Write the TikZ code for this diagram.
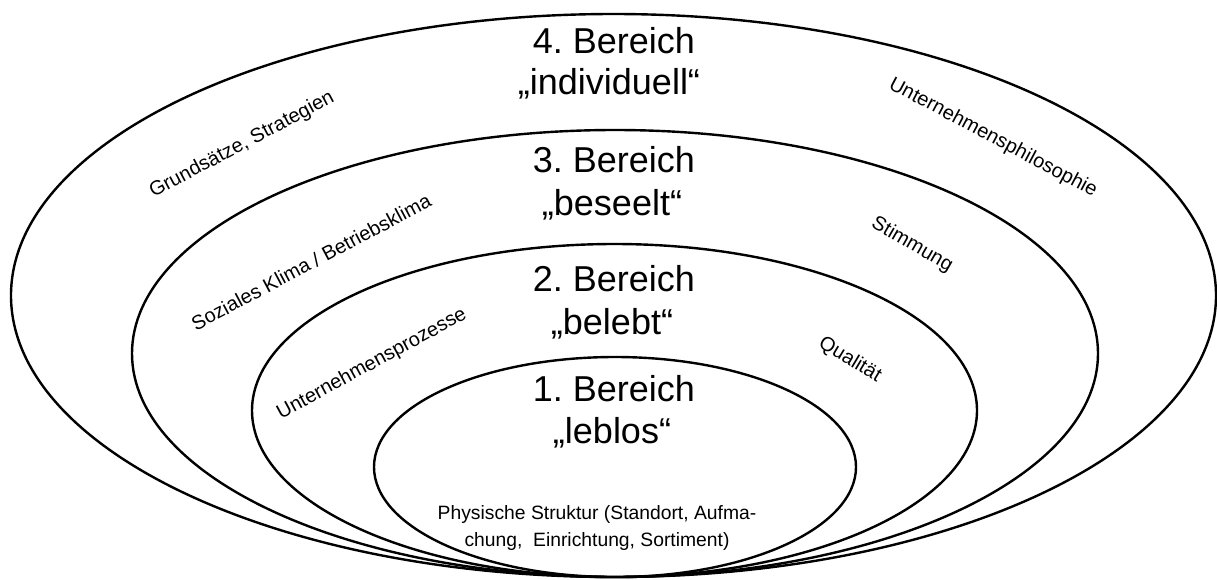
\documentclass[tikz,border=0pt]{standalone}
\usepackage{fontspec}
\setmainfont{Liberation Sans}
\usetikzlibrary{shapes.geometric}
\frenchspacing

\tikzset{
  x=1pt, y=-1pt,
  zone/.style={draw=black, line width=2.4pt, shape=ellipse, inner sep=0pt, minimum width=#1},
  title/.style={anchor=base, inner sep=0pt, font=\fontsize{36}{41}\selectfont},
  tag/.style={inner sep=0pt, font=\fontsize{20}{24}\selectfont},
  note/.style={anchor=base, inner sep=0pt, font=\fontsize{19.3}{24}\selectfont},
}

\begin{document}
\begin{tikzpicture}
\useasboundingbox (0,0) rectangle (1217,579);

% four nested zones, all touching at the bottom
\node[zone=1205pt, minimum height=563pt] (e4) at (613.5,295.5) {};
\node[zone=966pt,  minimum height=447pt] (e3) at (615,353.5) {};
\node[zone=725pt,  minimum height=333pt] (e2) at (614.5,410.5) {};
\node[zone=482pt,  minimum height=220pt] (e1) at (615,467) {};

% zone titles
\node[title] (b4a) at (614,53)  {4. Bereich};
\node[title] (b4b) at (609,94)  {„individuell“};
\node[title] (b3a) at (614,172) {3. Bereich};
\node[title] (b3b) at (612,215) {„beseelt“};
\node[title] (b2a) at (614,291) {2. Bereich};
\node[title] (b2b) at (612,334) {„belebt“};
\node[title] (b1a) at (614,401) {1. Bereich};
\node[title] (b1b) at (612,443) {„leblos“};

% slanted side labels
\node[tag, rotate=28]   (grund)   at (242,145) {Grundsätze, Strategien};
\node[tag, rotate=28]   (sozial)  at (311,262) {Soziales Klima / Betriebsklima};
\node[tag, rotate=28.5] (prozess) at (372,364) {Unternehmensprozesse};
\node[tag, rotate=-28]  (philo)   at (993,138) {Unternehmensphilosophie};
\node[tag, rotate=-30]  (stimm)   at (912,245) {Stimmung};
\node[tag, rotate=-31]  (qual)    at (850,360) {Qualität};

% innermost description
\node[note] (phys1) at (597,519) {Physische Struktur (Standort, Aufma-};
\node[note] (phys2) at (597,546) {chung,\ \ Einrichtung, Sortiment)};
\end{tikzpicture}
\end{document}
